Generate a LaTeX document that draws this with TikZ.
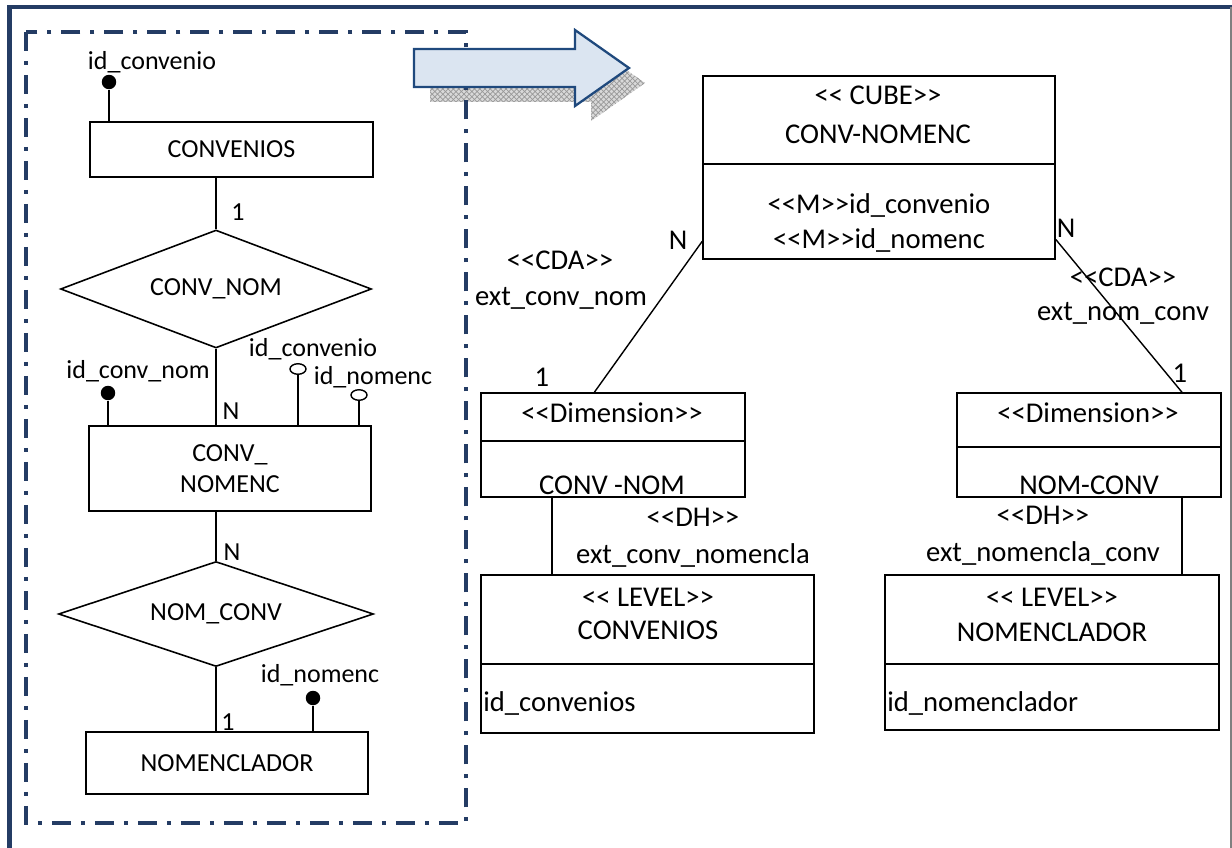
\documentclass[tikz,border=0pt]{standalone}
\usepackage{fontspec}
\setmainfont{Carlito}
\usetikzlibrary{shapes.geometric,fit,calc,patterns}
\definecolor{navy}{RGB}{36,60,100}
\definecolor{arrowblue}{RGB}{219,229,241}
\definecolor{arrowline}{RGB}{31,73,125}
\newcommand{\stereo}[1]{<\kern0pt<#1>\kern0pt>}
\tikzset{
  er/.style={font=\fontsize{14.8}{18}\selectfont},
  md/.style={font=\fontsize{16.3}{22}\selectfont},
  entity/.style={draw, line width=0.9pt, inner sep=0pt, er},
  relation/.style={draw, diamond, line width=0.9pt, inner sep=0pt, aspect=2.6, er},
  keydot/.style={circle, fill, inner sep=0pt, minimum size=0.29cm},
  keyring/.style={ellipse, draw, line width=0.8pt, inner sep=0pt, minimum width=0.32cm, minimum height=0.21cm},
  umlbox/.style={draw, line width=0.9pt, inner sep=0pt},
  link/.style={line width=0.8pt},
}
\begin{document}
\begin{tikzpicture}[x=0.02cm, y=-0.02cm]
\useasboundingbox (0,0) rectangle (1232,848);
\draw[navy, line width=2.4pt] (9.5,850) -- (9.5,7) -- (1232,7);
\draw[gray, line width=0.8pt] (1231,7) -- (1231,850);
\fill[gray!30, postaction={pattern=crosshatch, pattern color=gray!80}, shift={(16,15)}]
  (414,49) -- (575,49) -- (575,30) -- (629,68) -- (575,106) -- (575,87) -- (414,87) -- cycle;
\draw[navy, line width=2pt, dash pattern=on 0.38cm off 0.2cm on 0.08cm off 0.2cm] (26,32) rectangle (466,823);
\filldraw[fill=arrowblue, draw=arrowline, line width=1.3pt]
  (414,49) -- (575,49) -- (575,30) -- (629,68) -- (575,106) -- (575,87) -- (414,87) -- cycle;

\node[entity, minimum width=5.66cm, minimum height=1.1cm] (convenios) at (231.5,149.5) {CONVENIOS};
\node[relation, minimum width=6.22cm, minimum height=2.36cm] (convnom) at (216,289) {CONV\_NOM};
\node[entity, minimum width=5.64cm, minimum height=1.7cm, align=center] (convnomenc) at (230,468.5) {CONV\_\\NOMENC};
\node[relation, minimum width=6.3cm, minimum height=2.1cm] (nomconv) at (216,614) {NOM\_CONV};
\node[entity, minimum width=5.64cm, minimum height=1.24cm] (nomenclador) at (227,763) {NOMENCLADOR};
\draw[link] (convnom.north) -- (convnom.north |- convenios.south);
\draw[link] (convnom.south) -- (convnom.south |- convnomenc.north);
\draw[link] (nomconv.north) -- (nomconv.north |- convnomenc.south);
\draw[link] (nomconv.south) -- (nomconv.south |- nomenclador.north);
\node[er] (card1) at (238,212) {1};
\node[er] (card2) at (231,411) {N};
\node[er] (card3) at (232,552) {N};
\node[er] (card4) at (228,722) {1};

\node[keydot] (kconv) at (109,82) {};
\node[er] (lconv) at (152,62) {id\_convenio};
\draw[link] (kconv) -- (kconv |- convenios.north);
\node[keydot] (kconvnom) at (108,393) {};
\node[er] (lconvnom) at (138,371) {id\_conv\_nom};
\draw[link] (kconvnom) -- (kconvnom |- convnomenc.north);
\node[keyring] (rconv) at (298,369) {};
\node[er] (lrconv) at (313,349) {id\_convenio};
\draw[link] (rconv) -- (rconv |- convnomenc.north);
\node[keyring] (rnom) at (359,395) {};
\node[er] (lrnom) at (373,377) {id\_nomenc};
\draw[link] (rnom) -- (rnom |- convnomenc.north);
\node[keydot] (knom) at (313,698) {};
\node[er] (lnom) at (320,675) {id\_nomenc};
\draw[link] (knom) -- (knom |- nomenclador.north);

\node[umlbox, fit={(703,76) (1055,259)}] (cube) {};
\draw[link] (cube.west |- 0,164) -- (cube.east |- 0,164);
\node[md] (cubet) at (878,95) {\stereo{ CUBE}};
\node[md] (cuben) at (878,134) {CONV-NOMENC};
\node[md] (meas1) at (879,205) {\stereo{M}id\_convenio};
\node[md] (meas2) at (879,240) {\stereo{M}id\_nomenc};

\node[umlbox, fit={(481,393) (745,497)}] (dimL) {};
\draw[link] (dimL.west |- 0,441) -- (dimL.east |- 0,441);
\node[md] (dimLt) at (612,413) {\stereo{Dimension}};
\node[md] (dimLn) at (612,485) {CONV -NOM};
\node[umlbox, fit={(957,393) (1221,497)}] (dimR) {};
\draw[link] (dimR.west |- 0,447) -- (dimR.east |- 0,447);
\node[md] (dimRt) at (1088,413) {\stereo{Dimension}};
\node[md] (dimRn) at (1089,485) {NOM-CONV};

\node[umlbox, fit={(481,575) (814,733)}] (levelL) {};
\draw[link] (levelL.west |- 0,664) -- (levelL.east |- 0,664);
\node[md] (levelLt) at (648,597) {\stereo{ LEVEL}};
\node[md] (levelLn) at (648,630) {CONVENIOS};
\node[md, anchor=west, inner sep=0pt] (levelLa) at (483,703) {id\_convenios};
\node[umlbox, fit={(885,575) (1219,730)}] (levelR) {};
\draw[link] (levelR.west |- 0,664) -- (levelR.east |- 0,664);
\node[md] (levelRt) at (1052,597) {\stereo{ LEVEL}};
\node[md] (levelRn) at (1052,632) {NOMENCLADOR};
\node[md, anchor=west, inner sep=0pt] (levelRa) at (887,703) {id\_nomenclador};

\draw[link] ($(cube.south west)!0.1!(cube.north west)$) -- ($(dimL.north west)!0.43!(dimL.north east)$);
\draw[link] ($(cube.south east)!0.11!(cube.north east)$) -- ($(dimR.north west)!0.85!(dimR.north east)$);
\node[md] (cdaL) at (560,260) {\stereo{CDA}};
\node[md] (cdaLn) at (561,298) {ext\_conv\_nom};
\node[md] (cardL1) at (678,240) {N};
\node[md] (cardL2) at (542,377) {1};
\node[md] (cdaR) at (1123,277) {\stereo{CDA}};
\node[md] (cdaRn) at (1123,313) {ext\_nom\_conv};
\node[md] (cardR1) at (1066,228) {N};
\node[md] (cardR2) at (1180,373) {1};

\path ($(dimL.south west)!0.27!(dimL.south east)$) coordinate (dhL);
\draw[link] (dhL) -- (dhL |- levelL.north);
\path ($(dimR.south west)!0.85!(dimR.south east)$) coordinate (dhR);
\draw[link] (dhR) -- (dhR |- levelR.north);
\node[md] (dhLt) at (693,517) {\stereo{DH}};
\node[md] (dhLn) at (693,555) {ext\_conv\_nomencla};
\node[md] (dhRt) at (1043,515) {\stereo{DH}};
\node[md] (dhRn) at (1043,553) {ext\_nomencla\_conv};
\end{tikzpicture}
\end{document}
